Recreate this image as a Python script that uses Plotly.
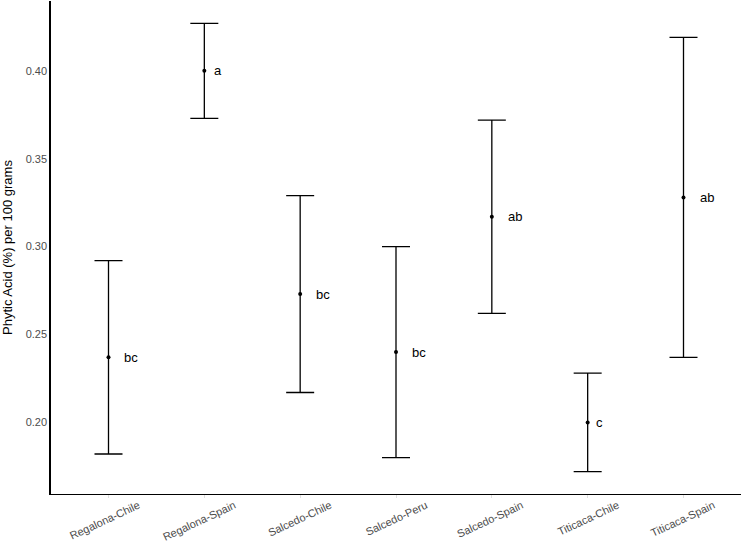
import plotly.graph_objects as go

categories = ["Regalona-Chile", "Regalona-Spain", "Salcedo-Chile", "Salcedo-Peru",
              "Salcedo-Spain", "Titicaca-Chile", "Titicaca-Spain"]
means = [0.237, 0.400, 0.273, 0.240, 0.317, 0.200, 0.328]
errors = [0.055, 0.027, 0.056, 0.060, 0.055, 0.028, 0.091]
letters = ["bc", "a", "bc", "bc", "ab", "c", "ab"]
y_ticks = [0.20, 0.25, 0.30, 0.35, 0.40]

# ggplot-like 5% expansion of the data range
lo = min(m - e for m, e in zip(means, errors))
hi = max(m + e for m, e in zip(means, errors))
pad = 0.05 * (hi - lo)
yrange = [lo - pad, hi + pad]

fig = go.Figure()
fig.add_trace(go.Scatter(
    x=categories, y=means, mode="markers",
    marker=dict(color="black", size=4),
    error_y=dict(type="data", array=errors, visible=True,
                 color="black", thickness=1.3, width=14),
    showlegend=False, hoverinfo="skip",
))

# letter labels, hjust=-1 style (shift by own text width)
char_w = {"a": 0.556, "b": 0.556, "c": 0.5}
fsize = 13
for c, m, lab in zip(categories, means, letters):
    w = sum(char_w.get(ch, 0.55) for ch in lab) * fsize
    fig.add_annotation(x=c, y=m, text=lab, showarrow=False,
                       xanchor="left", yanchor="middle", xshift=w,
                       font=dict(size=fsize, color="black",
                                 family="Liberation Sans, Arial, sans-serif"))

fig.update_layout(
    width=741, height=546,
    margin=dict(l=51, r=0, t=1, b=52),
    paper_bgcolor="white", plot_bgcolor="white",
    font=dict(family="Liberation Sans, Arial, sans-serif"),
    xaxis=dict(
        type="category", categoryorder="array", categoryarray=categories,
        range=[-0.6, len(categories) - 0.4],
        automargin=False,
        showline=True, linecolor="black", linewidth=1.2,
        showgrid=False, zeroline=False,
        ticks="outside", ticklen=3, tickcolor="#e0e0e0",
        tickangle=-25, ticklabelshift=30, ticklabelstandoff=-3,
        tickfont=dict(size=11, color="#4d4d4d"),
    ),
    yaxis=dict(
        range=yrange, automargin=False,
        tickvals=y_ticks, tickformat=".2f",
        showline=True, linecolor="black", linewidth=1.5,
        showgrid=False, zeroline=False,
        ticks="", tickfont=dict(size=11, color="#4d4d4d"),
        title=dict(text="Phytic Acid (%) per 100 grams",
                   font=dict(size=13, color="black")),
    ),
)

fig.write_html("out.html", config={"displayModeBar": False},
               post_script="document.body.style.margin='0';")
